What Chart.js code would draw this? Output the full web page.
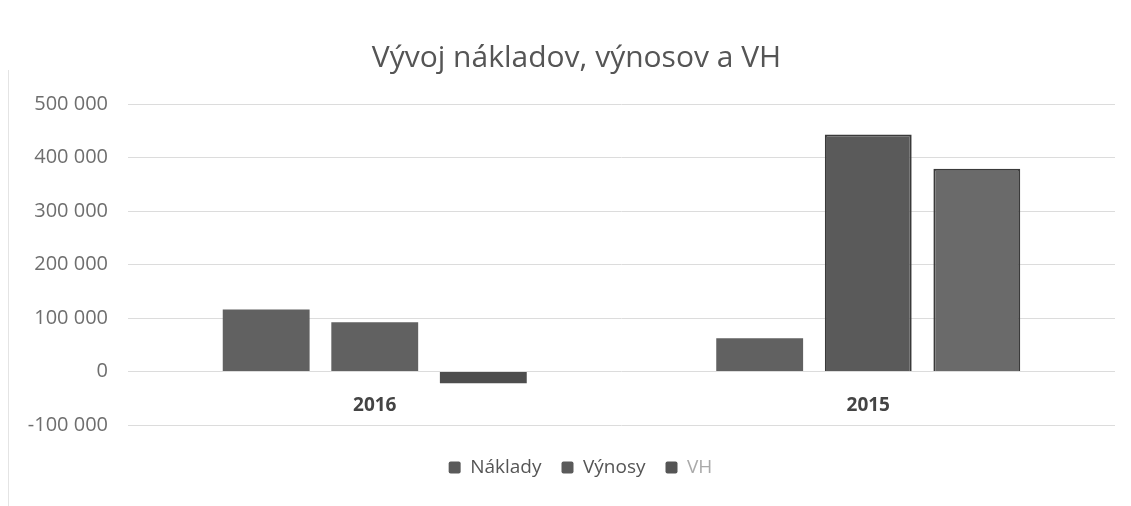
<!DOCTYPE html>
<html>
<head>
<meta charset="utf-8">
<script src="https://cdn.jsdelivr.net/npm/chart.js@4.4.0/dist/chart.umd.min.js"></script>
<style>
  html, body { margin: 0; padding: 0; background: #fff; }
  #wrap { width: 1131px; height: 506px; position: relative; }
  #wrap::before { content: ""; position: absolute; left: 8px; top: 70px; bottom: 0; width: 1px; background: #e4e4e4; }
</style>
</head>
<body>
<div id="wrap"><canvas id="chart" width="1131" height="506"></canvas></div>
<script>
const categories = ["2016", "2015"];
const naklady = [116000, 62000];
const vynosy = [92000, 443000];
const vh = [-22000, 379000];
const yTicks = [-100000, 0, 100000, 200000, 300000, 400000, 500000];

const fontFamily = "'Open Sans', 'Noto Sans', sans-serif";
const fmt = (v) => String(v).replace(/\B(?=(\d{3})+(?!\d))/g, " ");

// title and legend sit a bit right of the canvas centre in the original,
// legend also lower than its padding alone would put it
const shiftBlocks = {
  id: "shiftBlocks",
  afterLayout(chart) {
    const t = chart.titleBlock;
    t.left += 14;
    t.right += 14;
    const l = chart.legend;
    l.left += 18;
    l.right += 18;
    l.top += 13;
    l.bottom += 13;
  },
};

const ctx = document.getElementById("chart").getContext("2d");
new Chart(ctx, {
  type: "bar",
  data: {
    labels: categories,
    datasets: [
      { label: "Náklady", data: naklady, backgroundColor: "#616161", borderColor: "#555", borderWidth: 0 },
      { label: "Výnosy", data: vynosy, backgroundColor: ["#616161", "#5a5a5a"], borderColor: "#3a3a3a", borderWidth: [0, 2] },
      { label: "VH", data: vh, backgroundColor: ["#4d4d4d", "#6a6a6a"], borderColor: "#3a3a3a", borderWidth: [0, 2] },
    ],
  },
  options: {
    responsive: false,
    animation: false,
    categoryPercentage: 0.66,
    barPercentage: 0.8,
    layout: { padding: { left: 10, right: 16, top: 0, bottom: 32 } },
    scales: {
      x: {
        position: { y: 0 },
        grid: { display: false, drawTicks: false },
        border: { display: false },
        ticks: { color: "#444", font: { family: fontFamily, size: 19, weight: "bold" }, padding: 23 },
      },
      y: {
        min: -100000,
        max: 500000,
        afterBuildTicks: (s) => { s.ticks = yTicks.map((v) => ({ value: v })); },
        afterFit: (s) => { s.width = 118; },
        grid: { color: "#dcdcdc", drawTicks: false },
        border: { display: false },
        ticks: { color: "#6e6e6e", font: { family: fontFamily, size: 20 }, padding: 20, callback: (v) => fmt(v) },
      },
    },
    plugins: {
      title: {
        display: true,
        text: "Vývoj nákladov, výnosov a VH",
        color: "#555",
        font: { family: fontFamily, size: 30, weight: "normal" },
        padding: { top: 40, bottom: 28 },
      },
      legend: {
        position: "bottom",
        labels: {
          boxWidth: 12,
          boxHeight: 12,
          useBorderRadius: true,
          borderRadius: 2,
          padding: 20,
          font: { family: fontFamily, size: 19 },
          generateLabels: (chart) =>
            chart.data.datasets.map((d, i) => ({
              text: d.label,
              fillStyle: i === 2 ? "#555" : "#5a5a5a",
              strokeStyle: "transparent",
              lineWidth: 0,
              fontColor: i === 2 ? "#aaa" : "#555",
              borderRadius: 2,
              datasetIndex: i,
            })),
        },
      },
      tooltip: { enabled: false },
    },
  },
  plugins: [shiftBlocks],
});
</script>
</body>
</html>
